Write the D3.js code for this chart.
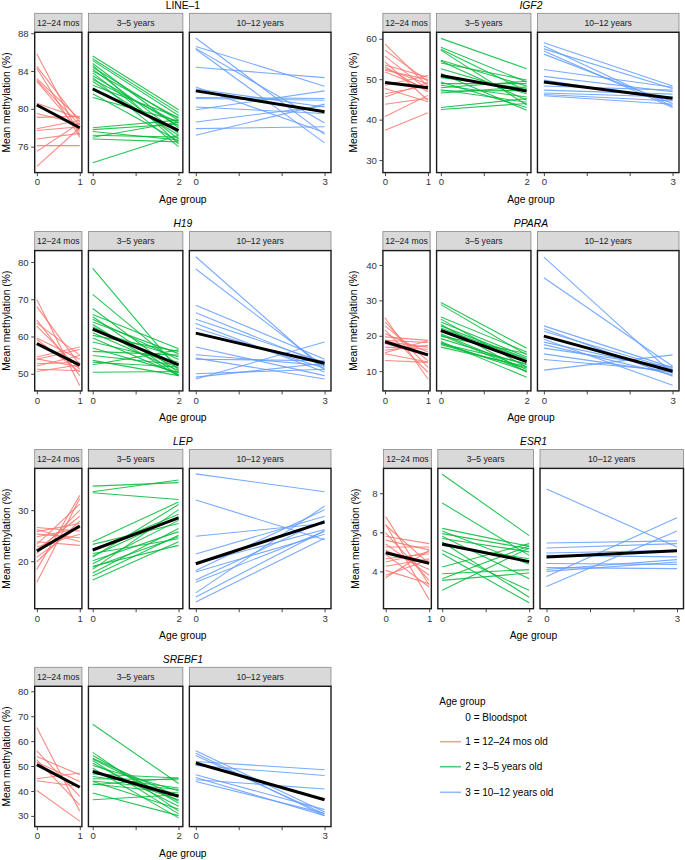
<!DOCTYPE html>
<html>
<head>
<meta charset="utf-8">
<script src="https://cdn.jsdelivr.net/npm/d3@7"></script>
<style>
  html, body { margin: 0; padding: 0; background: #fff; }
  text { font-family: "Liberation Sans", Arial, Helvetica, sans-serif; }
</style>
</head>
<body>
<script>
// ---------------- categories ----------------
const stripLabels = ["12–24 mos", "3–5 years", "10–12 years"];
const groupMax = [1, 2, 3];
const groupColors = ["#F8766D", "#00BA38", "#619CFF"];
const legendTitle = "Age group";
const legendLabels = ["0 = Bloodspot", "1 = 12–24 mos old", "2 = 3–5 years old", "3 = 10–12 years old"];
const xAxisTitle = "Age group";
const yAxisTitle = "Mean methylation (%)";

// ---------------- LINE-1 ----------------
const LINE1_yTicks = [76, 80, 84, 88];
const LINE1_yDomain = [73.25, 88.1];
const LINE1_g1_t0 = [85.8, 84.5, 84.3, 83.2, 83.0, 82.9, 80.6, 80.5, 79.5, 79.1, 77.9, 77.7, 76.8, 76.1, 75.5, 73.9];
const LINE1_g1_t1 = [77.2, 78.6, 77.0, 78.9, 78.3, 77.6, 79.0, 77.8, 78.4, 79.2, 78.8, 78.1, 77.4, 76.1, 78.5, 78.0];
const LINE1_g2_t0 = [85.6, 85.3, 85.1, 84.8, 84.6, 84.4, 84.2, 84.0, 83.8, 83.5, 83.3, 83.1, 82.9, 82.5, 82.2, 81.6, 81.2, 78.0, 77.8, 77.6, 77.2, 77.0, 76.8, 74.3];
const LINE1_g2_t1 = [79.9, 79.6, 79.3, 78.0, 76.3, 78.8, 77.4, 79.0, 76.8, 78.2, 76.0, 78.5, 77.2, 79.1, 77.8, 76.6, 78.7, 78.8, 78.4, 76.7, 77.0, 78.6, 76.5, 77.2];
const LINE1_g3_t0 = [87.5, 86.6, 86.4, 86.3, 84.4, 82.3, 82.1, 81.2, 81.1, 80.2, 79.9, 78.6, 77.9, 77.2];
const LINE1_g3_t1 = [77.3, 82.4, 78.5, 76.4, 83.3, 77.5, 80.2, 81.1, 80.9, 79.5, 81.9, 80.3, 78.1, 80.5];
const LINE1_mean = [[80.4, 78.0], [82.1, 77.7], [81.9, 79.7]];

// ---------------- IGF2 ----------------
const IGF2_yTicks = [30, 40, 50, 60];
const IGF2_yDomain = [26.9, 61.6];
const IGF2_g1_t0 = [58.7, 57.2, 55.7, 54.3, 53.5, 53.1, 52.6, 52.2, 51.8, 48.5, 47.7, 46.4, 45.6, 43.8, 40.8, 37.4];
const IGF2_g1_t1 = [48.2, 49.5, 47.3, 44.8, 50.5, 46.9, 48.8, 49.9, 47.6, 50.9, 44.4, 48.4, 49.2, 45.3, 46.0, 41.7];
const IGF2_g2_t0 = [60.1, 57.9, 57.4, 57.2, 54.7, 54.5, 54.0, 52.6, 51.4, 50.4, 49.3, 48.9, 48.5, 47.9, 47.4, 47.1, 46.6, 43.0, 42.5];
const IGF2_g2_t1 = [52.6, 49.3, 47.1, 43.6, 48.3, 44.8, 49.8, 46.4, 42.3, 47.7, 43.0, 48.9, 45.6, 49.5, 44.3, 47.2, 48.1, 45.2, 44.0];
const IGF2_g3_t0 = [59.0, 58.2, 57.5, 57.0, 56.2, 52.4, 50.7, 49.8, 48.3, 47.3, 46.6, 46.2, 45.9];
const IGF2_g3_t1 = [48.3, 43.3, 47.7, 43.0, 44.0, 48.0, 46.9, 44.8, 47.3, 46.3, 45.6, 44.6, 43.8];
const IGF2_mean = [[49.2, 47.9], [50.9, 47.1], [49.3, 45.3]];

// ---------------- H19 ----------------
const H19_yTicks = [50, 60, 70, 80];
const H19_yDomain = [45.4, 83.05];
const H19_g1_t0 = [69.9, 68.0, 64.4, 63.6, 62.8, 59.6, 59.2, 54.5, 54.0, 53.9, 52.7, 52.1, 51.2, 50.6];
const H19_g1_t1 = [46.8, 52.4, 49.5, 55.0, 51.2, 53.9, 50.5, 57.2, 51.8, 56.5, 53.1, 54.9, 50.8, 52.4];
const H19_g2_t0 = [78.3, 71.3, 67.5, 65.9, 65.3, 64.6, 63.9, 63.2, 62.6, 61.7, 61.0, 60.3, 59.6, 58.5, 56.9, 56.0, 54.9, 53.6, 53.1, 52.4, 50.4];
const H19_g2_t1 = [51.0, 52.2, 50.3, 56.7, 49.7, 53.8, 55.4, 49.4, 51.5, 54.5, 50.9, 56.0, 49.7, 53.1, 50.3, 55.0, 52.4, 49.5, 51.8, 56.4, 50.6];
const H19_g3_t0 = [81.4, 78.1, 68.4, 66.4, 64.6, 63.5, 62.3, 57.2, 55.1, 54.2, 53.9, 50.0, 49.1, 48.6];
const H19_g3_t1 = [51.0, 51.8, 53.9, 52.4, 53.1, 50.5, 51.5, 49.5, 52.2, 48.6, 53.5, 51.2, 52.8, 58.5];
const H19_mean = [[58.1, 52.3], [62.0, 52.4], [60.9, 52.8]];

// ---------------- PPARA ----------------
const PPARA_yTicks = [10, 20, 30, 40];
const PPARA_yDomain = [4.43, 44.06];
const PPARA_g1_t0 = [25.1, 23.9, 22.8, 21.6, 20.6, 19.7, 18.7, 17.8, 16.8, 15.9, 14.9, 13.0, 18.3, 15.2];
const PPARA_g1_t1 = [7.8, 11.1, 13.0, 9.7, 15.4, 18.7, 18.1, 14.3, 16.2, 17.3, 12.6, 12.5, 16.8, 18.6];
const PPARA_g2_t0 = [29.4, 28.8, 25.3, 24.7, 23.9, 23.2, 22.2, 21.3, 20.6, 19.9, 19.2, 18.4, 17.8, 17.5, 16.8, 22.8, 20.2, 18.0];
const PPARA_g2_t1 = [16.5, 14.6, 15.4, 11.1, 14.0, 9.7, 13.3, 12.6, 10.5, 15.0, 11.8, 8.3, 12.1, 10.9, 11.3, 13.6, 9.9, 10.0];
const PPARA_g3_t0 = [42.2, 36.4, 22.8, 22.0, 21.3, 19.9, 19.0, 18.2, 17.5, 16.5, 14.9, 13.3, 10.3];
const PPARA_g3_t1 = [9.3, 11.4, 11.0, 8.6, 10.6, 9.9, 6.0, 10.4, 9.0, 11.2, 9.6, 10.1, 14.6];
const PPARA_mean = [[18.3, 14.6], [21.5, 12.7], [19.9, 10.0]];

// ---------------- LEP ----------------
const LEP_yTicks = [20, 30];
const LEP_yDomain = [10.7, 38.18];
const LEP_g1_t0 = [26.6, 26.2, 25.8, 25.3, 24.8, 23.8, 23.3, 22.8, 22.2, 21.5, 20.8, 19.9, 18.4, 15.9];
const LEP_g1_t1 = [25.9, 23.8, 27.4, 24.6, 26.4, 23.1, 31.2, 25.3, 28.8, 30.0, 26.9, 27.9, 32.9, 32.3];
const LEP_g2_t0 = [34.7, 33.6, 33.4, 23.8, 23.3, 22.2, 21.5, 20.8, 20.1, 19.5, 19.0, 18.4, 17.7, 17.1, 16.3, 21.0, 18.8];
const LEP_g2_t1 = [35.4, 35.9, 32.1, 31.6, 27.4, 29.2, 24.4, 31.1, 25.8, 28.0, 23.1, 30.1, 26.4, 25.1, 23.8, 28.7, 24.8];
const LEP_g3_t0 = [37.1, 32.0, 24.9, 21.4, 19.5, 18.2, 17.9, 16.3, 15.9, 13.8, 13.0, 12.0];
const LEP_g3_t1 = [33.6, 24.2, 27.4, 28.8, 26.2, 30.1, 25.3, 28.0, 25.8, 30.8, 26.0, 24.5];
const LEP_mean = [[22.0, 26.9], [22.2, 28.5], [19.5, 27.7]];

// ---------------- ESR1 ----------------
const ESR1_yTicks = [4, 6, 8];
const ESR1_yDomain = [2.09, 9.27];
const ESR1_g1_t0 = [6.8, 6.4, 6.36, 5.97, 5.8, 5.6, 5.4, 5.25, 5.08, 4.87, 4.65, 4.48, 4.26, 4.05, 3.8, 3.67];
const ESR1_g1_t1 = [3.3, 2.55, 4.4, 3.54, 5.42, 5.1, 3.8, 5.25, 4.1, 3.2, 4.9, 5.0, 4.65, 3.37, 4.6, 5.08];
const ESR1_g2_t0 = [8.97, 7.5, 6.2, 6.07, 5.93, 5.8, 5.68, 5.5, 5.33, 5.08, 4.9, 4.22, 3.88, 3.62, 3.54, 3.03];
const ESR1_g2_t1 = [5.83, 4.82, 5.28, 4.36, 5.16, 3.62, 5.0, 2.68, 4.65, 3.03, 2.39, 5.42, 4.09, 5.3, 3.92, 5.2];
const ESR1_g3_t0 = [8.22, 5.45, 5.2, 4.94, 4.82, 4.4, 4.19, 4.0, 3.74, 3.23, 4.1];
const ESR1_g3_t1 = [5.25, 5.56, 5.42, 5.08, 4.74, 4.36, 4.14, 4.48, 6.75, 6.07, 4.6];
const ESR1_mean = [[4.95, 4.42], [5.4, 4.5], [4.73, 5.05]];

// ---------------- SREBF1 ----------------
const SREBF1_yTicks = [30, 40, 50, 60, 70, 80];
const SREBF1_yDomain = [25.7, 82.0];
const SREBF1_g1_t0 = [65.5, 56.1, 53.8, 52.5, 51.5, 44.9, 44.1, 40.2];
const SREBF1_g1_t1 = [31.9, 37.8, 46.5, 34.3, 43.8, 47.2, 41.8, 27.9];
const SREBF1_g2_t0 = [66.8, 55.5, 54.2, 53.1, 52.2, 51.1, 50.2, 49.1, 48.1, 46.8, 45.8, 44.9, 43.8, 42.8, 39.2, 36.5, 52.8, 44.0, 42.5];
const SREBF1_g2_t1 = [43.0, 31.9, 35.2, 37.8, 30.8, 33.9, 40.1, 29.2, 36.5, 45.2, 41.2, 44.5, 32.8, 39.2, 30.1, 38.5, 36.0, 40.6, 45.2];
const SREBF1_g3_t0 = [56.1, 55.1, 54.2, 51.8, 50.2, 46.5, 45.4, 44.5, 43.8];
const SREBF1_g3_t1 = [31.6, 30.1, 30.8, 48.5, 46.2, 32.5, 30.1, 40.8, 31.0];
const SREBF1_mean = [[50.6, 41.5], [47.8, 37.9], [51.2, 36.5]];

// ---------------- chart list (built from arrays) ----------------
const genes = [
  { title: "LINE–1", italic: false, col: 0, row: 0, yDomain: LINE1_yDomain, yTicks: LINE1_yTicks,
    groups: [[LINE1_g1_t0, LINE1_g1_t1], [LINE1_g2_t0, LINE1_g2_t1], [LINE1_g3_t0, LINE1_g3_t1]], mean: LINE1_mean },
  { title: "IGF2", italic: true, col: 1, row: 0, yDomain: IGF2_yDomain, yTicks: IGF2_yTicks,
    groups: [[IGF2_g1_t0, IGF2_g1_t1], [IGF2_g2_t0, IGF2_g2_t1], [IGF2_g3_t0, IGF2_g3_t1]], mean: IGF2_mean },
  { title: "H19", italic: true, col: 0, row: 1, yDomain: H19_yDomain, yTicks: H19_yTicks,
    groups: [[H19_g1_t0, H19_g1_t1], [H19_g2_t0, H19_g2_t1], [H19_g3_t0, H19_g3_t1]], mean: H19_mean },
  { title: "PPARA", italic: true, col: 1, row: 1, yDomain: PPARA_yDomain, yTicks: PPARA_yTicks,
    groups: [[PPARA_g1_t0, PPARA_g1_t1], [PPARA_g2_t0, PPARA_g2_t1], [PPARA_g3_t0, PPARA_g3_t1]], mean: PPARA_mean },
  { title: "LEP", italic: true, col: 0, row: 2, yDomain: LEP_yDomain, yTicks: LEP_yTicks,
    groups: [[LEP_g1_t0, LEP_g1_t1], [LEP_g2_t0, LEP_g2_t1], [LEP_g3_t0, LEP_g3_t1]], mean: LEP_mean },
  { title: "ESR1", italic: true, col: 1, row: 2, wide: true, yDomain: ESR1_yDomain, yTicks: ESR1_yTicks,
    groups: [[ESR1_g1_t0, ESR1_g1_t1], [ESR1_g2_t0, ESR1_g2_t1], [ESR1_g3_t0, ESR1_g3_t1]], mean: ESR1_mean },
  { title: "SREBF1", italic: true, col: 0, row: 3, yDomain: SREBF1_yDomain, yTicks: SREBF1_yTicks,
    groups: [[SREBF1_g1_t0, SREBF1_g1_t1], [SREBF1_g2_t0, SREBF1_g2_t1], [SREBF1_g3_t0, SREBF1_g3_t1]], mean: SREBF1_mean }
];

// ---------------- layout ----------------
const W = 685, H = 860;
const colX = [[34.7, 331], [382.9, 679]];
const colXWide = [383.5, 683.5];
const yTitleX = [6, 353];
const yTitleXWide = 355;
const rowTop = [32.3, 250.6, 468.4, 686.3];
const panelH = 140.3;
const stripH = 19;
const gap = 6.5;

const svg = d3.select("body").append("svg")
  .attr("width", W).attr("height", H)
  .style("background", "#fff");

genes.forEach((g, gi) => {
  const [xL, xR] = g.wide ? colXWide : colX[g.col];
  const top = rowTop[g.row];
  const bottom = top + panelH;
  const y = d3.scaleLinear().domain(g.yDomain).range([bottom, top]);
  const unit = (xR - xL - 2 * gap) / (6 * 1.1);
  const root = svg.append("g");

  // title
  root.append("text")
    .attr("x", (xL + xR) / 2).attr("y", top - stripH - 4.6)
    .attr("text-anchor", "middle")
    .attr("font-size", 10.3)
    .attr("font-style", g.italic ? "italic" : "normal")
    .attr("fill", "#000")
    .text(g.title);

  let cx = xL;
  groupMax.forEach((m, i) => {
    const w = m * 1.1 * unit;
    const x = d3.scaleLinear().domain([-0.05 * m, 1.05 * m]).range([cx, cx + w]);
    const p = root.append("g");

    // strip
    p.append("rect")
      .attr("x", cx).attr("y", top - stripH).attr("width", w).attr("height", stripH)
      .attr("fill", "#D9D9D9").attr("stroke", "#888").attr("stroke-width", 0.8);
    p.append("text")
      .attr("x", cx + w / 2).attr("y", top - stripH / 2 + 3)
      .attr("text-anchor", "middle")
      .attr("font-size", 8.6).attr("fill", "#1a1a1a")
      .text(stripLabels[i]);

    // clip
    const clipId = "clip-" + gi + "-" + i;
    p.append("clipPath").attr("id", clipId)
      .append("rect").attr("x", cx).attr("y", top).attr("width", w).attr("height", panelH);

    const lines = p.append("g").attr("clip-path", "url(#" + clipId + ")");
    const [t0, t1] = g.groups[i];
    const pairs = t0.map((v, k) => [v, t1[k]]);
    lines.selectAll("line.subj").data(pairs).join("line")
      .attr("class", "subj")
      .attr("x1", x(0)).attr("x2", x(m))
      .attr("y1", d => y(d[0])).attr("y2", d => y(d[1]))
      .attr("stroke", groupColors[i]).attr("stroke-opacity", 0.85)
      .attr("stroke-width", 1.1);
    lines.append("line")
      .attr("x1", x(0)).attr("x2", x(m))
      .attr("y1", y(g.mean[i][0])).attr("y2", y(g.mean[i][1]))
      .attr("stroke", "#000").attr("stroke-width", 3).attr("stroke-linecap", "butt");

    // panel border
    p.append("rect")
      .attr("x", cx).attr("y", top).attr("width", w).attr("height", panelH)
      .attr("fill", "none").attr("stroke", "#1a1a1a").attr("stroke-width", 1.4);

    // x axis
    const xa = p.append("g").attr("transform", `translate(0,${bottom})`)
      .call(d3.axisBottom(x).tickValues(d3.range(0, m + 1)).tickSize(3.5).tickPadding(2.5)
        .tickFormat(d => (d === 0 || d === m) ? String(d) : ""));
    xa.select(".domain").remove();
    xa.selectAll("line").attr("stroke", "#333").attr("stroke-width", 0.9);
    xa.selectAll("text").attr("font-size", 9.6).attr("fill", "#333")
      .attr("font-family", '"Liberation Sans", Arial, sans-serif');

    if (i === 0) {
      const ya = p.append("g").attr("transform", `translate(${cx},0)`)
        .call(d3.axisLeft(y).tickValues(g.yTicks).tickSize(3.5).tickPadding(2.5));
      ya.select(".domain").remove();
      ya.selectAll("line").attr("stroke", "#333").attr("stroke-width", 0.9);
      ya.selectAll("text").attr("font-size", 9.6).attr("fill", "#333")
        .attr("font-family", '"Liberation Sans", Arial, sans-serif');
    }
    cx += w + gap;
  });

  // axis titles
  root.append("text")
    .attr("x", (xL + xR) / 2).attr("y", bottom + 30.5)
    .attr("text-anchor", "middle").attr("font-size", 10.3).attr("fill", "#000")
    .text(xAxisTitle);
  const ytx = g.wide ? yTitleXWide : yTitleX[g.col];
  root.append("text")
    .attr("transform", `translate(${ytx},${(top + bottom) / 2}) rotate(-90)`)
    .attr("text-anchor", "middle").attr("dy", "0.35em")
    .attr("font-size", 10.3).attr("fill", "#000")
    .text(yAxisTitle);
});

// ---------------- legend ----------------
const leg = svg.append("g");
leg.append("text").attr("x", 439.3).attr("y", 704.5)
  .attr("font-size", 10).attr("fill", "#000").text(legendTitle);
const legY = [717.3, 741.7, 766.7, 792.3];
legendLabels.forEach((lab, i) => {
  leg.append("text").attr("x", 465.3).attr("y", legY[i] + 3.5)
    .attr("font-size", 10).attr("fill", "#000").text(lab);
  if (i > 0) {
    leg.append("line").attr("x1", 440).attr("x2", 461)
      .attr("y1", legY[i]).attr("y2", legY[i])
      .attr("stroke", groupColors[i - 1]).attr("stroke-opacity", 0.7)
      .attr("stroke-width", 1.6);
  }
});
</script>
</body>
</html>
